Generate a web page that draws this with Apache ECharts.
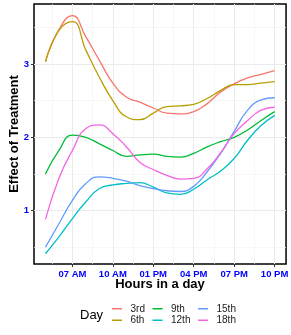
<!DOCTYPE html>
<html>
<head>
<meta charset="utf-8">
<script src="https://cdn.jsdelivr.net/npm/echarts@6/dist/echarts.min.js"></script>
<style>html,body{margin:0;padding:0;background:#fff;}#c{width:291px;height:335px;}</style>
</head>
<body>
<div id="c"></div>
<script>
const hours = [5,6,7,8,9,10,11,12,13,14,15,16,17,18,19,20,21,22];
const day3  = [3.03,3.47,3.66,3.37,3.05,2.74,2.55,2.48,2.40,2.33,2.32,2.35,2.46,2.62,2.73,2.81,2.86,2.91];
const day6  = [3.03,3.46,3.58,3.19,2.82,2.50,2.28,2.24,2.33,2.42,2.43,2.45,2.53,2.64,2.72,2.72,2.74,2.76];
const day9  = [1.50,1.82,2.03,2.00,1.91,1.82,1.74,1.76,1.77,1.74,1.73,1.78,1.87,1.94,2.00,2.10,2.23,2.35];
const day12 = [0.41,0.64,0.89,1.12,1.30,1.35,1.37,1.38,1.32,1.24,1.22,1.29,1.42,1.54,1.71,1.96,2.16,2.30];
const day15 = [0.50,0.82,1.14,1.37,1.46,1.44,1.40,1.34,1.30,1.27,1.26,1.33,1.53,1.78,2.08,2.37,2.51,2.54];
const day18 = [0.88,1.44,1.82,2.12,2.17,2.05,1.87,1.66,1.56,1.48,1.43,1.44,1.57,1.79,2.05,2.23,2.37,2.41];
const dayNames = ['3rd','6th','9th','12th','15th','18th'];
const dayValues = [day3, day6, day9, day12, day15, day18];
const colors = ['#F8766D','#B79F00','#00BA38','#00BFC4','#619CFF','#F564E3'];
const xTickValues = [7,10,13,16,19,22];
const xTickLabels = ['07 AM','10 AM','01 PM','04 PM','07 PM','10 PM'];
const xMinorValues = [5.5,8.5,11.5,14.5,17.5,20.5];
const yTickValues = [1,2,3];
const yTickLabels = ['1','2','3'];
const yMinorValues = [0.5,1.5,2.5,3.5];
const xRange = [4.15, 22.85];
const yRange = [0.27, 3.82];

const chart = echarts.init(document.getElementById('c'), null, {renderer:'canvas'});
const FONT = 'Liberation Sans, Arial, sans-serif';
const tickLabelStyle = {color:'#0000FF', fontWeight:'bold', fontSize:9.5, fontFamily:FONT};

const series = dayNames.map((name, i) => ({
  name: name,
  type: 'line',
  smooth: 0.5,
  showSymbol: false,
  symbol: 'none',
  xAxisIndex: 0,
  yAxisIndex: 0,
  lineStyle: {color: colors[i], width: 1.3},
  itemStyle: {color: colors[i]},
  data: hours.map((h, j) => [h, dayValues[i][j]]),
  z: 3
}));

function legendFor(names, left) {
  return {
    data: names.map(n => ({name: n, icon: 'rect'})),
    orient: 'vertical',
    left: left,
    top: 303,
    itemWidth: 10,
    itemHeight: 1.5,
    itemGap: 0,
    padding: 0,
    selectedMode: false,
    textStyle: {fontSize: 10, fontFamily: FONT, color: '#1a1a1a', lineHeight: 11.5, padding: [0,0,0,3.5]}
  };
}

chart.setOption({
  animation: false,
  color: colors,
  title: {
    text: 'Day', left: 80, top: 309, padding: 0,
    textStyle: {fontSize: 13, fontWeight: 'normal', fontFamily: FONT, color: '#000'}
  },
  legend: [
    legendFor([dayNames[0], dayNames[1]], 112),
    legendFor([dayNames[2], dayNames[3]], 152.5),
    legendFor([dayNames[4], dayNames[5]], 198)
  ],
  grid: {left: 27, right: 4, top: 4, bottom: 71, show: true, borderColor: '#000', borderWidth: 1.5, backgroundColor: 'transparent', containLabel: false},
  xAxis: [
    {
      type: 'value', min: xRange[0], max: xRange[1],
      name: 'Hours in a day', nameLocation: 'middle', nameGap: 14, nameMoveOverlap: false,
      nameTextStyle: {fontSize: 13, fontWeight: 'bold', fontFamily: FONT, color: '#000'},
      axisLine: {show: false},
      axisTick: {show: true, length: 3, customValues: xTickValues, lineStyle: {color: '#333', width: 1}},
      axisLabel: {show: true, margin: 5, customValues: xTickValues, ...tickLabelStyle,
        formatter: v => { const k = xTickValues.indexOf(Math.round(v)); return k >= 0 ? xTickLabels[k] : ''; }},
      splitLine: {show: true, lineStyle: {color: '#ebebeb', width: 1}},
      z: 1
    },
    {
      type: 'value', min: xRange[0], max: xRange[1], gridIndex: 0,
      axisLine: {show: false},
      axisTick: {show: false, customValues: xMinorValues},
      axisLabel: {show: false, customValues: xMinorValues},
      splitLine: {show: true, lineStyle: {color: '#f3f3f3', width: 0.7}},
      z: 0
    }
  ],
  yAxis: [
    {
      type: 'value', min: yRange[0], max: yRange[1],
      name: 'Effect of Treatment', nameLocation: 'middle', nameGap: 13, nameMoveOverlap: false,
      nameTextStyle: {fontSize: 13, fontWeight: 'bold', fontFamily: FONT, color: '#000'},
      axisLine: {show: false},
      axisTick: {show: true, length: 3, customValues: yTickValues, lineStyle: {color: '#333', width: 1}},
      axisLabel: {show: true, margin: 5, customValues: yTickValues, ...tickLabelStyle,
        formatter: v => { const k = yTickValues.indexOf(Math.round(v)); return k >= 0 ? yTickLabels[k] : ''; }},
      splitLine: {show: true, lineStyle: {color: '#ebebeb', width: 1}},
      z: 1
    },
    {
      type: 'value', min: yRange[0], max: yRange[1], gridIndex: 0,
      axisLine: {show: false},
      axisTick: {show: false, customValues: yMinorValues},
      axisLabel: {show: false, customValues: yMinorValues},
      splitLine: {show: true, lineStyle: {color: '#f3f3f3', width: 0.7}},
      z: 0
    }
  ],
  series: series
});
</script>
</body>
</html>
